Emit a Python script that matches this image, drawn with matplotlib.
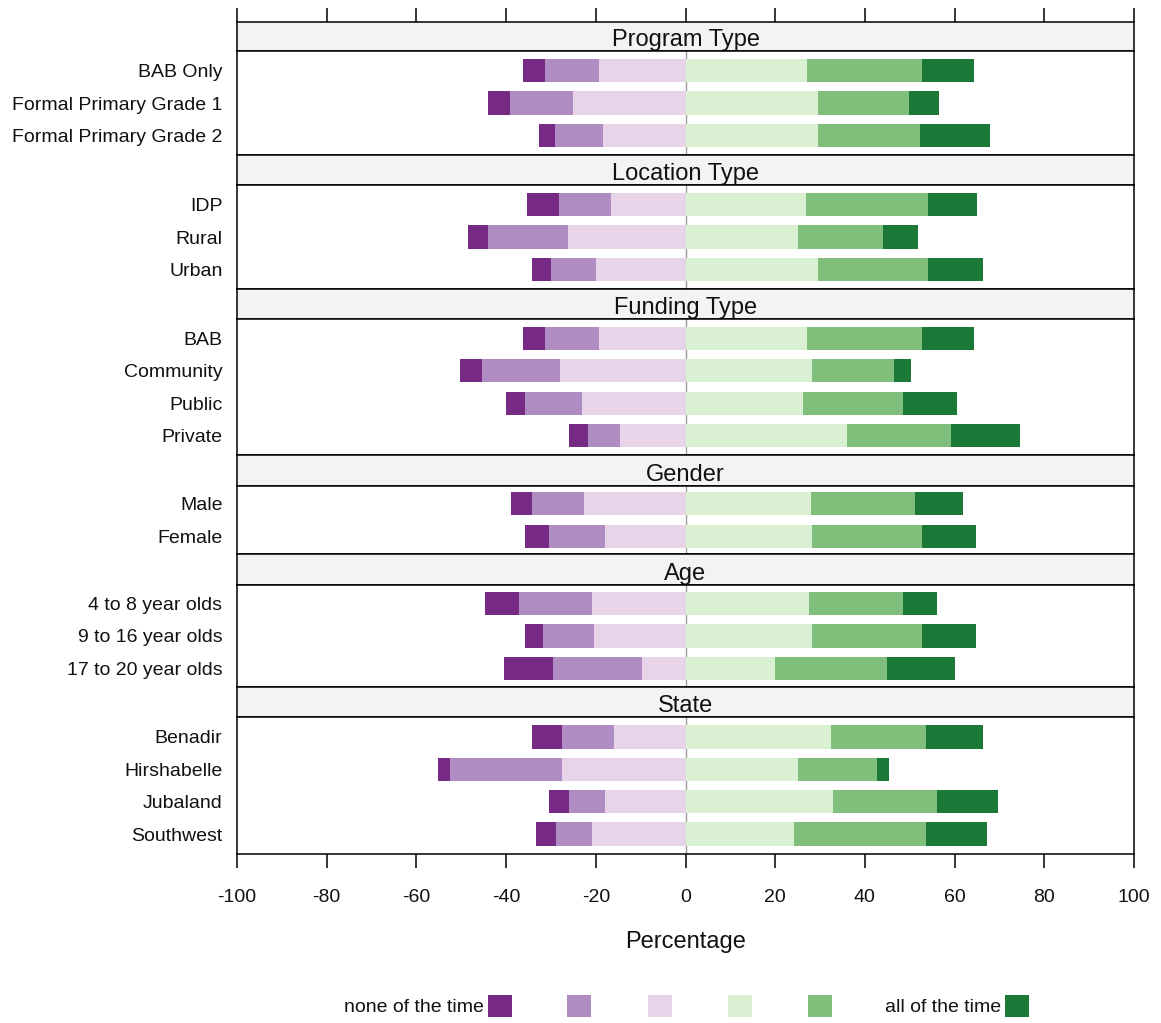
import matplotlib
matplotlib.use("Agg")
import matplotlib.pyplot as plt
from matplotlib.patches import Rectangle

plt.rcParams['font.family'] = ['Liberation Sans', 'DejaVu Sans']
plt.rcParams['axes.unicode_minus'] = False

# ---- data -----------------------------------------------------------------
groups = ["Program Type", "Location Type", "Funding Type", "Gender", "Age", "State"]
group_rows = [
    ["BAB Only", "Formal Primary Grade 1", "Formal Primary Grade 2"],
    ["IDP", "Rural", "Urban"],
    ["BAB", "Community", "Public", "Private"],
    ["Male", "Female"],
    ["4 to 8 year olds", "9 to 16 year olds", "17 to 20 year olds"],
    ["Benadir", "Hirshabelle", "Jubaland", "Southwest"],
]
level_labels = ["none of the time", "", "", "", "", "all of the time"]

# percentage of respondents per response level, rows in the order of group_rows
level_1 = [5.0, 5.0, 3.4,  7.1, 4.5, 4.2,  5.0, 5.0, 4.2, 4.2,  4.6, 5.3,  7.5, 4.1, 10.8,  6.7, 2.8, 4.6, 4.6]
level_2 = [12.0, 14.0, 10.7,  11.6, 17.8, 10.0,  12.0, 17.4, 12.8, 7.0,  11.6, 12.5,  16.2, 11.2, 19.9,  11.5, 24.9, 7.9, 7.9]
level_3 = [19.3, 25.1, 18.5,  16.7, 26.3, 20.0,  19.3, 27.9, 23.0, 14.7,  22.6, 18.0,  20.9, 20.5, 9.7,  16.0, 27.5, 18.0, 20.9]
level_4 = [27.1, 29.6, 29.6,  26.8, 25.0, 29.6,  27.1, 28.2, 26.2, 36.1,  27.9, 28.3,  27.6, 28.3, 20.0,  32.5, 25.0, 32.8, 24.2]
level_5 = [25.7, 20.3, 22.7,  27.2, 19.0, 24.4,  25.7, 18.3, 22.3, 23.2,  23.2, 24.5,  20.9, 24.5, 24.9,  21.1, 17.8, 23.2, 29.4]
level_6 = [11.5, 6.6, 15.7,  11.1, 7.8, 12.3,  11.5, 3.7, 12.0, 15.2,  10.7, 12.0,  7.5, 12.0, 15.2,  12.7, 2.5, 13.7, 13.6]

colors = ['#762A83', '#AF8DC3', '#E7D4E8', '#D9F0D3', '#7FBF7B', '#1B7837']
x_ticks = [-100, -80, -60, -40, -20, 0, 20, 40, 60, 80, 100]

# ---- layout (pixels) ------------------------------------------------------
W, H = 1161, 1023
X0, X1 = 237, 1134
strip_px = [(21.5, 51), (155, 185), (289, 319), (455, 486), (554, 585), (687, 717)]
panel_px = [(51, 155), (185, 289), (319, 455), (486, 554), (585, 687), (717, 854)]
row_step = 32.4
bar_h = 0.72
frame_lw = 1.1
label_size = 14
title_size = 17


def fig_rect(top, bottom):
    return [X0 / W, 1 - bottom / H, (X1 - X0) / W, (bottom - top) / H]


fig = plt.figure(figsize=(W / 100, H / 100), dpi=100)

levels = [level_1, level_2, level_3, level_4, level_5, level_6]
idx = 0
for g, (name, rows) in enumerate(zip(groups, group_rows)):
    # strip with the group title
    sax = fig.add_axes(fig_rect(*strip_px[g]))
    sax.set_facecolor('#F3F3F3')
    sax.set_xlim(-100, 100)
    sax.set_ylim(0, 1)
    sax.set_yticks([])
    sax.text(0, 0.36, name, ha='center', va='center', fontsize=title_size, color='#111111')
    for sp in sax.spines.values():
        sp.set_linewidth(frame_lw)
    if g == 0:
        sax.set_xticks(x_ticks)
        sax.tick_params(axis='x', bottom=False, labelbottom=False, top=True, labeltop=False,
                        direction='out', length=10, width=1.1)
    else:
        sax.set_xticks([])

    # panel with the diverging bars
    top, bottom = panel_px[g]
    ax = fig.add_axes(fig_rect(top, bottom))
    n = len(rows)
    pad = max(((bottom - top) / row_step - n) / 2, 0.04)
    ax.set_xlim(-100, 100)
    ax.set_ylim(n + 0.5 + pad, 0.5 - pad)
    ax.axvline(0, color='#9A9A9A', lw=1.0, zorder=0)
    for r in range(n):
        y = r + 1
        vals = [lv[idx + r] for lv in levels]
        # negative side: level_3 next to zero, then level_2, then level_1
        left = 0.0
        for k in (2, 1, 0):
            left -= vals[k]
            ax.barh(y, vals[k], left=left, height=bar_h, color=colors[k], lw=0, zorder=2)
        # positive side
        start = 0.0
        for k in (3, 4, 5):
            ax.barh(y, vals[k], left=start, height=bar_h, color=colors[k], lw=0, zorder=2)
            start += vals[k]
    idx += n
    ax.set_yticks(range(1, n + 1))
    ax.set_yticklabels(rows, fontsize=label_size, color='#111111')
    ax.tick_params(axis='y', length=0, pad=10.5)
    for sp in ax.spines.values():
        sp.set_linewidth(frame_lw)
    if g == len(groups) - 1:
        ax.set_xticks(x_ticks)
        ax.set_xticklabels([str(t) for t in x_ticks], fontsize=label_size, color='#111111')
        ax.tick_params(axis='x', direction='out', length=10, width=1.1, pad=15)
        ax.set_xlabel("Percentage", fontsize=title_size, labelpad=18, color='#111111')
    else:
        ax.set_xticks([])

# ---- legend along the bottom ---------------------------------------------
sq_left = [488, 567, 648, 728, 808, 1005]
sq_w, sq_top, sq_bot = 24, 995, 1017
for k in range(6):
    fig.add_artist(Rectangle((sq_left[k] / W, 1 - sq_bot / H), sq_w / W, (sq_bot - sq_top) / H,
                             transform=fig.transFigure, facecolor=colors[k], edgecolor='none'))
    if level_labels[k]:
        fig.text((sq_left[k] - 4) / W, 1 - ((sq_top + sq_bot) / 2 + 2) / H, level_labels[k],
                 ha='right', va='center', fontsize=label_size, color='#111111')

fig.savefig("out.png", dpi=100, facecolor='white')
